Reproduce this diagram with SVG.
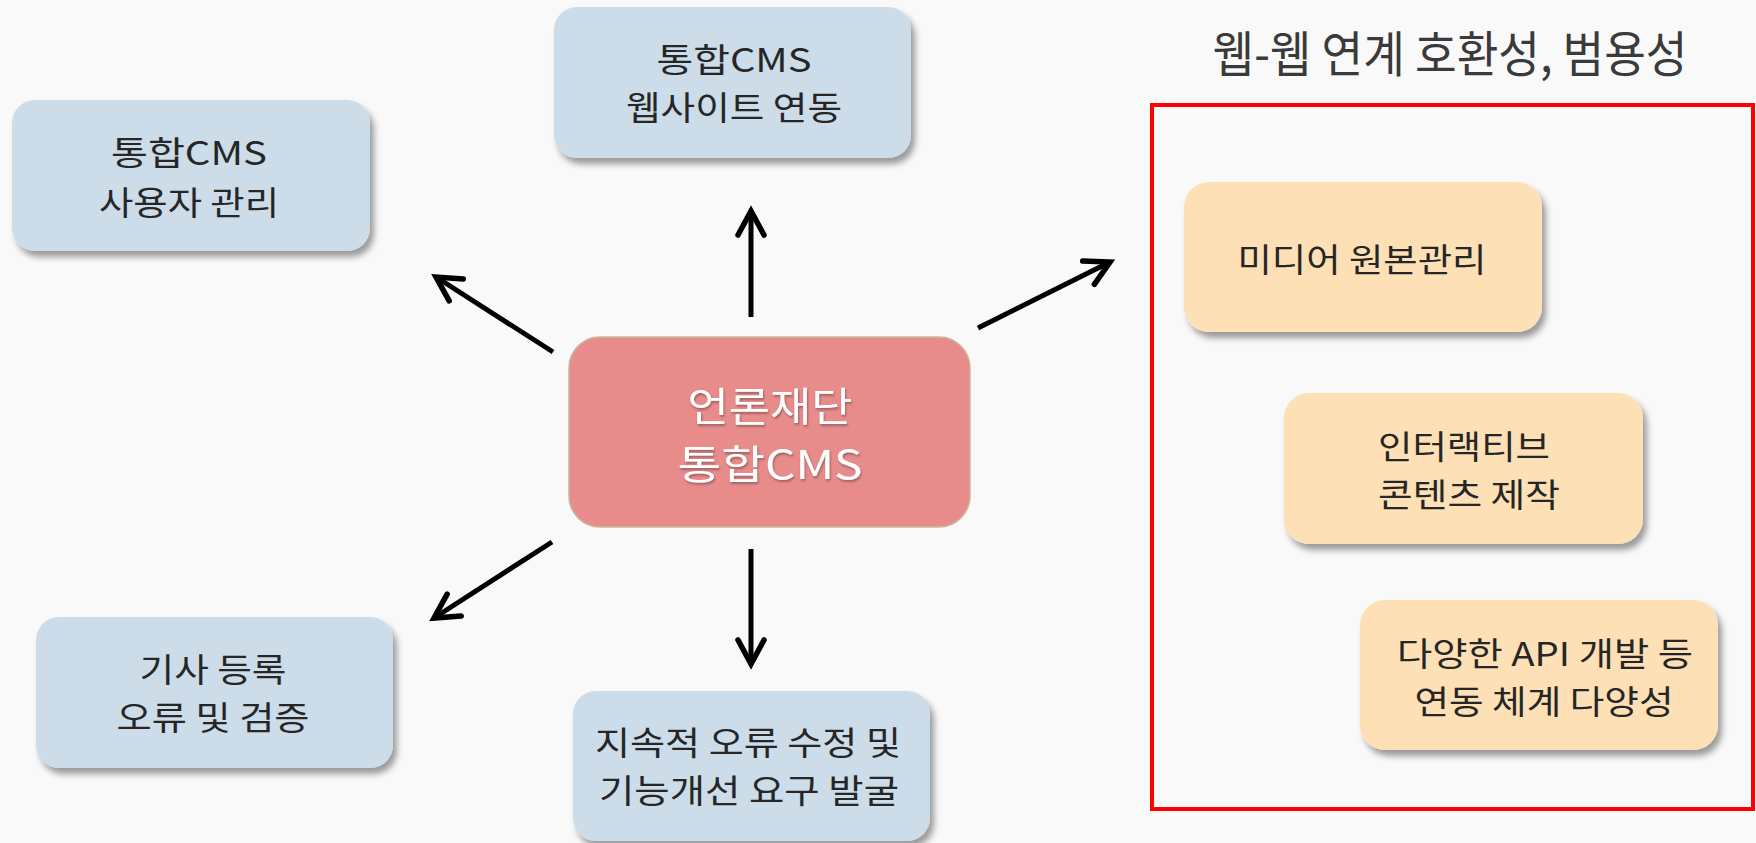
<svg xmlns="http://www.w3.org/2000/svg" width="1756" height="843" viewBox="0 0 1756 843">
  <style>
    .lbl { font-family: "Noto Sans CJK KR", "Noto Sans", sans-serif; font-size: 33px; fill: #262626; text-anchor: middle; }
    .ctr { font-family: "Noto Sans CJK KR", "Noto Sans", sans-serif; font-size: 40px; fill: #ffffff; text-anchor: middle; }
    .title { font-family: "Noto Sans CJK KR", "Noto Sans", sans-serif; font-size: 49px; fill: #3a3a3a; text-anchor: middle; }
    .blue { fill: #CCDCE9; }
    .orange { fill: #FEE0B6; }
    .arrow { fill: none; stroke: #000; stroke-width: 5; }
  </style>
  <defs>
    <filter id="shadow" x="-10%" y="-10%" width="125%" height="135%">
      <feDropShadow dx="4" dy="6" stdDeviation="3" flood-color="#000" flood-opacity="0.38"/>
    </filter>
    <filter id="tshadow" x="-10%" y="-20%" width="120%" height="150%">
      <feDropShadow dx="1" dy="2" stdDeviation="1.2" flood-color="#000" flood-opacity="0.3"/>
    </filter>
    <marker id="head" markerUnits="userSpaceOnUse" markerWidth="40" markerHeight="40" viewBox="-30 -20 40 40" refX="0" refY="0" orient="auto">
      <path d="M -24 -13 L 0 0 L -24 13" fill="none" stroke="#000" stroke-width="5.5" stroke-linecap="round" stroke-linejoin="miter"/>
    </marker>
  </defs>
  <rect x="0" y="0" width="1756" height="843" fill="#F9F9F9"/>

  <g id="connectors">
    <path class="arrow" d="M 751 317 L 751 211" marker-end="url(#head)"/>
    <path class="arrow" d="M 553 352 L 436 277" marker-end="url(#head)"/>
    <path class="arrow" d="M 978 328 L 1110 262" marker-end="url(#head)"/>
    <path class="arrow" d="M 552 542 L 434 618" marker-end="url(#head)"/>
    <path class="arrow" d="M 751 549 L 751 664" marker-end="url(#head)"/>
  </g>

  <g id="node-user">
    <rect class="blue" x="12" y="100" width="358" height="151" rx="23" filter="url(#shadow)"/>
    <text class="lbl" x="189" y="165" textLength="156" lengthAdjust="spacingAndGlyphs">통합CMS</text>
    <text class="lbl" x="189" y="215" textLength="180" lengthAdjust="spacingAndGlyphs">사용자 관리</text>
  </g>

  <g id="node-web">
    <rect class="blue" x="554" y="7" width="357" height="151" rx="23" filter="url(#shadow)"/>
    <text class="lbl" x="734" y="72" textLength="155" lengthAdjust="spacingAndGlyphs">통합CMS</text>
    <text class="lbl" x="734" y="120" textLength="216" lengthAdjust="spacingAndGlyphs">웹사이트 연동</text>
  </g>

  <g id="node-center">
    <rect x="569" y="337" width="401" height="190" rx="31" fill="#E78B8B" stroke="#C9B79F" stroke-width="1.5"/>
    <text class="ctr" x="770" y="421" filter="url(#tshadow)" textLength="165" lengthAdjust="spacingAndGlyphs">언론재단</text>
    <text class="ctr" x="770" y="479" filter="url(#tshadow)" textLength="185" lengthAdjust="spacingAndGlyphs">통합CMS</text>
  </g>

  <g id="node-article">
    <rect class="blue" x="36" y="617" width="357" height="151" rx="23" filter="url(#shadow)"/>
    <text class="lbl" x="213" y="682" textLength="147" lengthAdjust="spacingAndGlyphs">기사 등록</text>
    <text class="lbl" x="213" y="730" textLength="193" lengthAdjust="spacingAndGlyphs">오류 및 검증</text>
  </g>

  <g id="node-fix">
    <rect class="blue" x="573" y="691" width="357" height="150" rx="23" filter="url(#shadow)"/>
    <text class="lbl" x="748" y="755" textLength="306" lengthAdjust="spacingAndGlyphs">지속적 오류 수정 및</text>
    <text class="lbl" x="749" y="803" textLength="300" lengthAdjust="spacingAndGlyphs">기능개선 요구 발굴</text>
  </g>

  <g id="group-web">
    <text class="title" x="1450" y="72" textLength="475" lengthAdjust="spacingAndGlyphs">웹-웹 연계 호환성, 범용성</text>
    <rect x="1152" y="105" width="601" height="704" fill="none" stroke="#FF0000" stroke-width="4"/>
  </g>

  <g id="node-media">
    <rect class="orange" x="1184" y="182" width="358" height="150" rx="25" filter="url(#shadow)"/>
    <text class="lbl" x="1362" y="272" textLength="249" lengthAdjust="spacingAndGlyphs">미디어 원본관리</text>
  </g>

  <g id="node-interactive">
    <rect class="orange" x="1284" y="393" width="359" height="151" rx="25" filter="url(#shadow)"/>
    <text class="lbl" x="1464" y="459" textLength="172" lengthAdjust="spacingAndGlyphs">인터랙티브</text>
    <text class="lbl" x="1469" y="507" textLength="182" lengthAdjust="spacingAndGlyphs">콘텐츠 제작</text>
  </g>

  <g id="node-api">
    <rect class="orange" x="1360" y="600" width="358" height="150" rx="25" filter="url(#shadow)"/>
    <text class="lbl" x="1545" y="666" textLength="296" lengthAdjust="spacingAndGlyphs">다양한 API 개발 등</text>
    <text class="lbl" x="1544" y="714" textLength="259" lengthAdjust="spacingAndGlyphs">연동 체계 다양성</text>
  </g>
</svg>
